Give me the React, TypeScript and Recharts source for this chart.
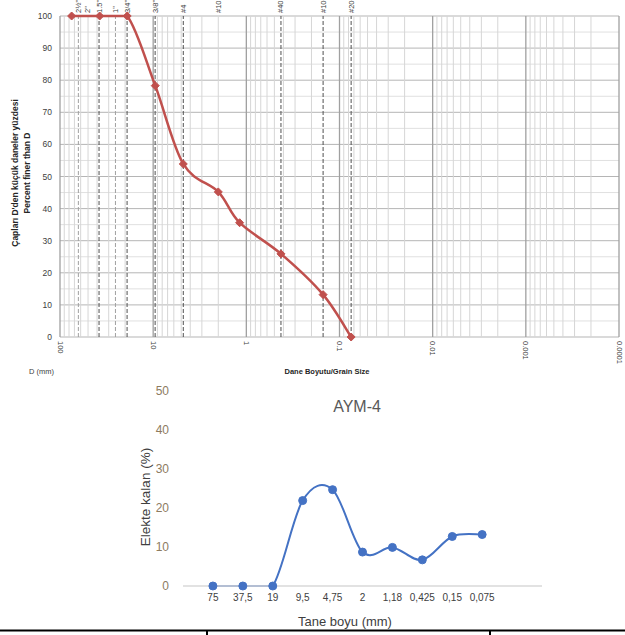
import React from 'react';
import { LineChart, Line, XAxis, YAxis, ReferenceLine } from 'recharts';

// ---- Top chart data (grain size distribution) ----
const sieveSizes = [75, 37.5, 19, 9.5, 4.75, 2, 1.18, 0.425, 0.15, 0.075];
const percentFiner = [100, 100, 100, 78.3, 53.9, 45.2, 35.6, 25.9, 13.2, 0];
const topTickValues = [100, 10, 1, 0.1, 0.01, 0.001, 0.0001];
const topTickLabels = ['100', '10', '1', '0.1', '0.01', '0.001', '0.0001'];
const yTicksTop = [0, 10, 20, 30, 40, 50, 60, 70, 80, 90, 100];
const sieveLineValues = [63.5, 50.8, 38.1, 25.4, 19.05, 9.525, 4.75, 2.0, 0.425, 0.15, 0.075];
const sieveLabels = ['2½"', '2"', '1.5"', '1"', '3/4"', '3/8"', '#4', '#10', '#40', '#100', '#200'];

// ---- Bottom chart data (retained on sieve) ----
const bottomCategories = ['75', '37,5', '19', '9,5', '4,75', '2', '1,18', '0,425', '0,15', '0,075'];
const retained = [0, 0, 0, 21.9, 24.7, 8.7, 9.9, 6.7, 12.7, 13.2];
const yTicksBottom = [0, 10, 20, 30, 40, 50];

const topData = sieveSizes.map((d, i) => ({ d, p: percentFiner[i] }));
const bottomData = retained.map((v, i) => ({ i: i + 1, v }));

// decade / minor log gridline values
const logGrid: { v: number; major: boolean }[] = [];
for (let k = -4; k <= 1; k++) {
  for (let m = 1; m <= 9; m++) {
    logGrid.push({ v: Number((m * Math.pow(10, k)).toPrecision(3)), major: m === 1 });
  }
}
logGrid.push({ v: 100, major: true });
const hGrid: number[] = [];
for (let v = 0; v <= 100; v += 5) hGrid.push(v);

// style of each sieve line (0 hidden, 1 light, 2 dark)
const sieveLineStyle = [1, 0, 2, 1, 2, 2, 2, 0, 2, 2, 2];

// Excel-like smoothing curve (Catmull-Rom style bezier, flat runs kept flat)
function excelSmooth(context: any) {
  let pts: [number, number][] = [];
  return {
    areaStart() {},
    areaEnd() {},
    lineStart() {
      pts = [];
    },
    lineEnd() {
      const n = pts.length;
      if (n === 0) return;
      context.moveTo(pts[0][0], pts[0][1]);
      if (n === 1) return;
      for (let i = 0; i < n - 1; i++) {
        const p0 = pts[i - 1] || pts[i];
        const p1 = pts[i];
        const p2 = pts[i + 1];
        const p3 = pts[i + 2] || p2;
        if (Math.abs(p1[1] - p2[1]) < 0.01) {
          context.lineTo(p2[0], p2[1]);
          continue;
        }
        const c1x = p1[0] + (p2[0] - p0[0]) / 6;
        const c1y = p1[1] + (p2[1] - p0[1]) / 6;
        const c2x = p2[0] - (p3[0] - p1[0]) / 6;
        const c2y = p2[1] - (p3[1] - p1[1]) / 6;
        context.bezierCurveTo(c1x, c1y, c2x, c2y, p2[0], p2[1]);
      }
    },
    point(x: number, y: number) {
      pts.push([+x, +y]);
    },
  };
}

const FONT = '"Liberation Sans", Arial, sans-serif';

const TopXTick = (props: any) => {
  const { x, y, payload } = props;
  const idx = topTickValues.indexOf(payload.value);
  const label = idx >= 0 ? topTickLabels[idx] : String(payload.value);
  return (
    <text
      x={x}
      y={y}
      transform={`rotate(90 ${x} ${y})`}
      textAnchor="start"
      dominantBaseline="central"
      fontSize={7.5}
      fill="#404040"
      fontFamily={FONT}
    >
      {label}
    </text>
  );
};

const renderDiamond = (p: any) => {
  const { cx, cy, index } = p;
  if (cx == null || cy == null) return <g key={`dm-${index}`} />;
  const s = 4;
  return (
    <path
      key={`dm-${index}`}
      d={`M${cx},${cy - s}L${cx + s},${cy}L${cx},${cy + s}L${cx - s},${cy}Z`}
      fill="#c0504d"
      stroke="#c0504d"
      strokeWidth={1}
    />
  );
};

const SieveLabel = (text: string) => (props: any) => {
  const vb = props.viewBox || {};
  const x = vb.x;
  const y = 13;
  return (
    <text
      x={x}
      y={y}
      transform={`rotate(-90 ${x} ${y})`}
      textAnchor="start"
      dominantBaseline="central"
      fontSize={7.5}
      fill="#404040"
      fontFamily={FONT}
    >
      {text}
    </text>
  );
};

export default function App() {
  return (
    <div style={{ position: 'absolute', left: 0, top: 0, width: 625, height: 635, background: '#fff', overflow: 'hidden' }}>
      <div style={{ position: 'absolute', left: 0, top: 0 }}>
        <LineChart width={625} height={380} data={topData} margin={{ top: 16, right: 6, bottom: 13, left: 30 }}>
          <XAxis
            dataKey="d"
            type="number"
            scale="log"
            domain={[0.0001, 100]}
            allowDataOverflow
            reversed
            ticks={topTickValues}
            tick={<TopXTick />}
            tickLine={false}
            axisLine={false}
            tickSize={2}
            tickMargin={2}
            height={30}
            interval={0}
          />
          <YAxis
            type="number"
            domain={[0, 100]}
            ticks={yTicksTop}
            tickLine={false}
            axisLine={false}
            width={30}
            interval={0}
            tick={{ fontSize: 8.5, fill: '#404040', fontFamily: FONT }}
          />
          {hGrid.map((v) => (
            <ReferenceLine
              key={`h-${v}`}
              y={v}
              stroke={v % 10 === 0 ? '#b5b5b5' : '#e0e0e0'}
              strokeWidth={1}
            />
          ))}
          {logGrid.map((g) => (
            <ReferenceLine
              key={`v-${g.v}`}
              x={g.v}
              stroke={g.major ? '#a0a0a0' : '#d6d6d6'}
              strokeWidth={g.major ? 1.3 : 1}
            />
          ))}
          {sieveLineValues.map((v, i) => (
            <ReferenceLine
              key={`s-${i}`}
              x={v}
              stroke={sieveLineStyle[i] === 0 ? 'none' : sieveLineStyle[i] === 1 ? '#a0a0a0' : '#505050'}
              strokeWidth={1}
              strokeDasharray="4 2"
              label={SieveLabel(sieveLabels[i])}
            />
          ))}
          <Line
            dataKey="p"
            type={excelSmooth as any}
            stroke="#c0504d"
            strokeWidth={2.5}
            dot={renderDiamond}
            activeDot={false}
            isAnimationActive={false}
          />
        </LineChart>
      </div>

      <div style={{ position: 'absolute', left: 0, top: 380 }}>
        <LineChart width={625} height={255} data={bottomData} margin={{ top: 11, right: 83, bottom: 24, left: 143 }}>
          <XAxis
            dataKey="i"
            type="number"
            domain={[0, 12]}
            ticks={[1, 2, 3, 4, 5, 6, 7, 8, 9, 10]}
            interval={0}
            tickFormatter={(v: number) => bottomCategories[v - 1] ?? ''}
            tickLine={false}
            axisLine={{ stroke: '#d9d9d9', strokeWidth: 1.3 }}
            height={25}
            tick={{ fontSize: 10, fill: '#404040', fontFamily: FONT }}
          />
          <YAxis
            type="number"
            domain={[0, 50]}
            ticks={yTicksBottom}
            interval={0}
            tickLine={false}
            axisLine={false}
            width={40}
            tickMargin={8}
            tick={{ fontSize: 12, fill: '#8d7b5f', fontFamily: FONT }}
          />
          <Line
            dataKey="v"
            type={excelSmooth as any}
            stroke="#4472c4"
            strokeWidth={2}
            dot={{ r: 4, fill: '#4472c4', stroke: '#4472c4', strokeWidth: 1 }}
            activeDot={false}
            isAnimationActive={false}
          />
        </LineChart>
      </div>

      <svg width={625} height={635} style={{ position: 'absolute', left: 0, top: 0, pointerEvents: 'none' }}>
        <text
          x={15}
          y={173}
          transform="rotate(-90 15 173)"
          textAnchor="middle"
          dominantBaseline="central"
          fontSize={8.5}
          fontWeight="bold"
          fill="#262626"
          fontFamily={FONT}
        >
          Çapları D'den küçük daneler yüzdesi
        </text>
        <text
          x={27}
          y={173}
          transform="rotate(-90 27 173)"
          textAnchor="middle"
          dominantBaseline="central"
          fontSize={8.5}
          fontWeight="bold"
          fill="#262626"
          fontFamily={FONT}
        >
          Percent finer than D
        </text>
        <text x={29} y={371} dominantBaseline="central" fontSize={7.5} fill="#404040" fontFamily={FONT}>
          D (mm)
        </text>
        <text
          x={327}
          y={371}
          textAnchor="middle"
          dominantBaseline="central"
          fontSize={7.5}
          fontWeight="bold"
          fill="#262626"
          fontFamily={FONT}
        >
          Dane Boyutu/Grain Size
        </text>

        <text x={357} y={406} textAnchor="middle" dominantBaseline="central" fontSize={16} fill="#595959" fontFamily={FONT}>
          AYM-4
        </text>
        <text
          x={145}
          y={497}
          transform="rotate(-90 145 497)"
          textAnchor="middle"
          dominantBaseline="central"
          fontSize={13.5}
          fill="#404040"
          fontFamily={FONT}
        >
          Elekte kalan (%)
        </text>
        <text x={345} y={621} textAnchor="middle" dominantBaseline="central" fontSize={13} fill="#404040" fontFamily={FONT}>
          Tane boyu (mm)
        </text>

        <line x1={0} y1={630.5} x2={625} y2={630.5} stroke="#000" strokeWidth={2} />
        <line x1={207} y1={630} x2={207} y2={635} stroke="#000" strokeWidth={2} />
        <line x1={490} y1={630} x2={490} y2={635} stroke="#000" strokeWidth={2} />
      </svg>
    </div>
  );
}
